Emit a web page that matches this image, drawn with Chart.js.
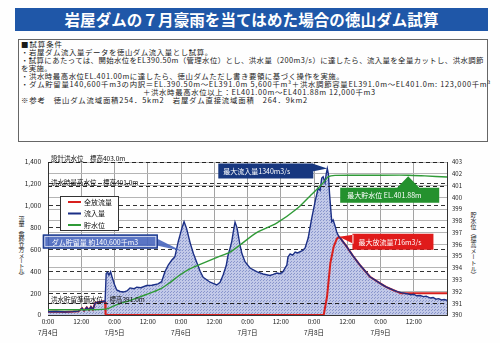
<!DOCTYPE html>
<html lang="ja">
<head>
<meta charset="utf-8">
<script src="https://cdn.jsdelivr.net/npm/chart.js@4.4.1/dist/chart.umd.min.js"></script>
<style>
html,body{margin:0;padding:0;background:#fefefe;}
body{width:500px;height:343px;position:relative;overflow:hidden;font-family:"Noto Sans CJK JP","Noto Sans",sans-serif;}
#chart{position:absolute;left:0;top:0;}
.banner{position:absolute;left:15px;top:8px;width:473px;height:23px;background:#1f57a8;color:#fff;font-weight:700;font-size:15.5px;line-height:23px;text-align:center;letter-spacing:0.1px;}
.cond{position:absolute;left:18px;top:39px;width:468px;height:101px;border:1px solid #666;}
.ln{position:absolute;font-size:7.4px;line-height:8px;white-space:nowrap;color:#1a1a1a;letter-spacing:0.4px;}
.vt{position:absolute;writing-mode:vertical-rl;font-size:6px;line-height:6px;color:#222;white-space:nowrap;}
</style>
</head>
<body>
<div class="banner">岩屋ダムの７月豪雨を当てはめた場合の徳山ダム試算</div>
<div class="cond"></div>
<div class="ln" style="left:21px;top:40px;letter-spacing:1px;">■試算条件</div>
<div class="ln" style="left:21px;top:48px;letter-spacing:0.6px;">・岩屋ダム流入量データを徳山ダム流入量とし試算。</div>
<div class="ln" style="left:21px;top:56px;">・試算にあたっては、開始水位をEL390.50m（管理水位）とし、洪水量（200m3/s）に達したら、流入量を全量カットし、洪水調節</div>
<div class="ln" style="left:21px;top:64px;">を実施。</div>
<div class="ln" style="left:21px;top:72px;letter-spacing:0.55px;">・洪水時最高水位EL.401.00mに達したら、徳山ダムただし書き要領に基づく操作を実施。</div>
<div class="ln" style="left:21px;top:80px;letter-spacing:0.7px;">・ダム貯留量140,600千m3の内訳＝EL.390.50m～EL391.0m 5,600千m³＋洪水調節容量EL391.0m～EL401.0m: 123,000千m³</div>
<div class="ln" style="left:143px;top:88px;letter-spacing:0.65px;">＋洪水時最高水位以上：EL401.00m～EL401.88m 12,000千m3</div>
<div class="ln" style="left:21px;top:96px;letter-spacing:0.8px;">※参考　徳山ダム流域面積254．5km2　岩屋ダム直接流域面積　264．9km2</div>
<div class="vt" style="left:18px;top:216px;letter-spacing:-0.8px;">流量（毎秒立方メートル）</div>
<div class="vt" style="left:470px;top:212px;">貯水位（標高メートル）</div>
<canvas id="chart" width="500" height="343"></canvas>
<script>
// time axis: hours from 7/4 0:00
const dayLabels = ['7月4日', '7月5日', '7月6日', '7月7日', '7月8日', '7月9日'];

// inflow (m3/s)
const inflowHours = [0, 3, 6, 9, 11, 12.3, 13, 14, 14.8, 15.5, 16.2, 17, 18, 19, 20.2, 20.6,
  21, 21.5, 22, 22.6, 23.2, 24, 24.8, 26, 27.2, 28.5, 29.6, 31, 32, 33.5, 35.6, 37.5, 39.7, 41,
  42.2, 43.4, 44.7, 45.8, 47, 48.3, 49.1, 50, 51.3, 52.5, 53.7, 54.9, 56, 57.4, 58.5, 59.6, 60.9,
  62.1, 63.2, 64.3, 65, 65.7, 66.3, 67, 67.5, 68.2, 69.3, 70, 71.1, 72.9, 75.3, 77.6, 80.1, 81.3,
  82.6, 83.8, 84.8, 86.2, 86.6, 87.4, 88.3, 89.2, 90.1, 91, 92, 92.8, 93.9, 95.2, 96.4, 97.5,
  98.2, 98.8, 99.3, 100, 100.4, 100.8, 101.2, 101.6, 102.4, 102.9, 103.6, 104.2, 105, 105.6,
  107.8, 110.1, 112.6, 116.2, 119.9, 122, 124.5, 126, 127.5, 129.5, 131, 132, 133, 134.3, 135.5,
  136.5, 138, 139, 140, 141, 142, 143, 144];
const inflowValues = [30, 32, 28, 31, 35, 62, 40, 70, 45, 75, 50, 110, 118, 122, 125, 120,
  380, 392, 365, 396, 340, 280, 229, 215, 210, 220, 248, 240, 255, 250, 270, 272, 285, 305,
  396, 457, 503, 533, 671, 793, 854, 793, 660, 560, 480, 400, 345, 320, 300, 290, 275,
  300, 366, 450, 549, 610, 670, 780, 850, 800, 640, 560, 488, 430, 396, 375, 362, 372,
  384, 378, 396, 457, 530, 560, 548, 575, 568, 580, 592, 613, 704, 888, 1037, 1162,
  1140, 1253, 1265, 1210, 1290, 1340, 1290, 1113, 854, 869, 815, 760, 716, 700,
  625, 540, 457, 350, 290, 258, 229, 214, 205, 195, 185, 190, 176, 178, 168,
  172, 155, 160, 145, 150, 138, 142, 135];

// total release (m3/s)
const outflowHours = [0, 3, 6, 9, 11, 12.3, 13, 14, 14.8, 15.5, 16.2, 17, 18, 19, 20.2, 20.6, 20.8,
  99.5, 100.7, 101.9, 103.1, 104.2, 105, 105.6, 107.8, 110.1, 112.6, 116.2, 119.9, 122, 124.5,
  126, 127.3, 144];
const outflowValues = [30, 32, 28, 31, 35, 62, 40, 70, 45, 75, 50, 110, 118, 122, 125, 120, 0,
  0, 167, 475, 625, 695, 716, 700, 625, 540, 457, 350, 290, 258, 229,
  214, 200, 200];

// reservoir level (EL m)
const levelHours = [0, 10, 20.8, 24, 30.7, 35, 40.4, 44, 47.6, 51, 54.9, 61, 65.7, 69.3, 75.3,
  82.5, 89.7, 94.5, 99.2, 101.2, 103.6, 115, 130, 136, 144];
const levelValues = [390.45, 390.45, 390.5, 390.8, 391.33, 391.7, 392.2, 392.75, 393.4, 393.9, 394.3,
  394.9, 395.35, 395.95, 397.0, 397.8, 399.0, 400.1, 401.2, 401.75, 401.86, 401.87, 401.88, 401.82, 401.72];

// reference water levels
const refLevels = [403.0, 401.0, 391.0];
const refLabels = ['設計洪水位　標高403.0m', '洪水時最高水位　標高401.0m', '洪水貯留準備水位　標高391.0m'];

// storage callout anchor (hour, m3/s) and text
const storageAnchor = [48.3, 585];
const storageText = 'ダム貯留量 約140,600千m3';

const FONT = '"Noto Sans CJK JP", "Noto Sans", sans-serif';

function pts(hs, vs) { return hs.map((h, i) => ({ x: h, y: vs[i] })); }

function dotPattern() {
  const c = document.createElement('canvas');
  c.width = 3; c.height = 3;
  const g = c.getContext('2d');
  g.fillStyle = '#c2c9e8';
  g.fillRect(0, 0, 3, 3);
  g.fillStyle = '#8995cc';
  g.fillRect(0, 0, 1, 1);
  g.fillRect(2, 1, 1, 1);
  return g.createPattern(c, 'repeat');
}

function callout(ctx, box, tri, fill, text, opts = {}) {
  ctx.save();
  ctx.fillStyle = fill;
  ctx.beginPath();
  ctx.rect(box.x, box.y, box.w, box.h);
  ctx.moveTo(tri[0][0], tri[0][1]);
  ctx.lineTo(tri[1][0], tri[1][1]);
  ctx.lineTo(tri[2][0], tri[2][1]);
  ctx.closePath();
  ctx.fill();
  if (opts.stroke) {
    ctx.strokeStyle = opts.stroke;
    ctx.lineWidth = 1.2;
    ctx.strokeRect(box.x + 0.5, box.y + 0.5, box.w - 1, box.h - 1);
    ctx.strokeStyle = 'rgba(255,255,255,0.8)';
    ctx.lineWidth = 0.8;
    ctx.strokeRect(box.x + 2, box.y + 2, box.w - 4, box.h - 4);
  }
  ctx.fillStyle = opts.color || '#fff';
  ctx.font = (opts.size || 7) + 'px ' + FONT;
  ctx.textBaseline = 'middle';
  ctx.textAlign = 'left';
  ctx.fillText(text, box.x + (opts.pad || 5), box.y + box.h / 2 + 0.5);
  ctx.restore();
}

const overlay = {
  id: 'overlay',
  afterDraw(chart) {
    const { ctx, chartArea: a, scales } = chart;
    const x = scales.x, yL = scales.yL, yR = scales.yR;
    ctx.save();

    // reference water level lines and labels
    refLevels.forEach((lv, i) => {
      const py = Math.round(yR.getPixelForValue(lv)) + 0.5;
      ctx.strokeStyle = '#222';
      ctx.lineWidth = 1;
      ctx.setLineDash([4, 3]);
      ctx.beginPath();
      ctx.moveTo(a.left, py);
      ctx.lineTo(a.right, py);
      ctx.stroke();
      ctx.setLineDash([]);
      ctx.fillStyle = '#111';
      ctx.font = '6.5px ' + FONT;
      ctx.textBaseline = 'middle';
      ctx.textAlign = 'left';
      ctx.fillText(refLabels[i], a.left + 3, py - 4);
    });

    // legend
    const lx = a.left + 12, ly = a.top + 34;
    ctx.fillStyle = '#fff';
    ctx.fillRect(lx, ly, 58, 34);
    ctx.strokeStyle = '#333';
    ctx.lineWidth = 1;
    ctx.strokeRect(lx + 0.5, ly + 0.5, 58, 34);
    chart.data.datasets.forEach((ds, i) => {
      const iy = ly + 6 + i * 11.5;
      ctx.strokeStyle = ds.borderColor;
      ctx.lineWidth = 2;
      ctx.beginPath();
      ctx.moveTo(lx + 8, iy);
      ctx.lineTo(lx + 21, iy);
      ctx.stroke();
      ctx.fillStyle = '#111';
      ctx.font = '7px ' + FONT;
      ctx.textBaseline = 'middle';
      ctx.fillText(ds.label, lx + 24, iy);
    });

    // storage callout
    {
      const px = x.getPixelForValue(storageAnchor[0]);
      const py = yL.getPixelForValue(storageAnchor[1]);
      const box = { x: px - 139, y: py - 16.5, w: 115, h: 14 };
      const r = box.x + box.w;
      callout(ctx, box, [[r - 1, box.y + 4], [px, py], [r - 1, box.y + 11]], 'rgba(72,102,190,0.9)',
        storageText, { stroke: '#1d3a8a', pad: 9 });
    }

    // peak inflow callout
    {
      let k = 0;
      inflowValues.forEach((v, i) => { if (v > inflowValues[k]) k = i; });
      const px = x.getPixelForValue(inflowHours[k]);
      const py = yL.getPixelForValue(inflowValues[k]);
      const box = { x: px - 109, y: py - 5, w: 95, h: 15 };
      const r = box.x + box.w;
      callout(ctx, box, [[r - 1, box.y], [px, py], [r - 1, box.y + 8]], '#17377f',
        '最大流入量' + inflowValues[k] + 'm3/s', { pad: 5 });
    }

    // peak level callout
    {
      let k = 0;
      levelValues.forEach((v, i) => { if (v > levelValues[k]) k = i; });
      const px = x.getPixelForValue(levelHours[k]);
      const py = yR.getPixelForValue(levelValues[k]);
      const box = { x: px - 68, y: py + 12.5, w: 99, h: 15 };
      callout(ctx, box, [[px - 12, box.y + 1], [px, py + 1], [px + 12, box.y + 1]], '#24912e',
        '最大貯水位 EL.' + levelValues[k].toFixed(2) + 'm', { pad: 7 });
    }

    // peak release callout
    {
      let k = 0;
      outflowValues.forEach((v, i) => { if (v > outflowValues[k]) k = i; });
      const px = x.getPixelForValue(outflowHours[k]);
      const py = yL.getPixelForValue(outflowValues[k]);
      const box = { x: px + 13.5, y: py - 3, w: 81, h: 16 };
      callout(ctx, box, [[box.x + 1, box.y + 1], [px, py], [box.x + 1, box.y + 10]], '#e01b1b',
        '最大放流量' + outflowValues[k] + 'm3/s', { pad: 6 });
    }

    ctx.restore();
  }
};

new Chart(document.getElementById('chart'), {
  type: 'line',
  data: {
    datasets: [
      {
        label: '全放流量',
        data: pts(outflowHours, outflowValues),
        yAxisID: 'yL',
        borderColor: '#d8201e',
        borderWidth: 2,
        pointRadius: 0,
        tension: 0,
        fill: false,
        order: 3
      },
      {
        label: '流入量',
        data: pts(inflowHours, inflowValues),
        yAxisID: 'yL',
        borderColor: '#1b2f86',
        borderWidth: 1.4,
        backgroundColor: dotPattern(),
        pointRadius: 0,
        tension: 0,
        fill: 'origin',
        order: 2
      },
      {
        label: '貯水位',
        data: pts(levelHours, levelValues),
        yAxisID: 'yR',
        borderColor: '#2f9a37',
        borderWidth: 1.4,
        pointRadius: 0,
        tension: 0.3,
        fill: false,
        order: 1
      }
    ]
  },
  options: {
    responsive: false,
    animation: false,
    devicePixelRatio: 1,
    layout: { padding: { top: 162, left: 0, right: 0, bottom: 0 } },
    plugins: {
      legend: { display: false },
      tooltip: { enabled: false },
      filler: { drawTime: 'beforeDatasetsDraw' }
    },
    scales: {
      x: {
        type: 'linear',
        min: 0,
        max: 144,
        afterFit: s => { s.height = 28; },
        ticks: {
          stepSize: 12,
          autoSkip: false,
          maxRotation: 0,
          padding: 1,
          color: '#222',
          font: { family: FONT, size: 6.5, lineHeight: '11px' },
          callback: v => {
            if (v >= 144) return '';
            if (v % 24 === 0) return ['0:00', dayLabels[v / 24]];
            return '12:00';
          }
        },
        grid: { color: '#a3a3a3', lineWidth: 1, drawTicks: false },
        border: { color: '#333', width: 1 }
      },
      yL: {
        position: 'left',
        min: 0,
        max: 1400,
        afterFit: s => { s.width = 48; },
        ticks: {
          stepSize: 200,
          padding: 7,
          color: '#222',
          font: { family: FONT, size: 6.5 },
          callback: v => v.toLocaleString('en-US')
        },
        grid: { color: '#333', lineWidth: 1, drawTicks: false },
        border: { color: '#333', width: 1, dash: [4, 3] }
      },
      yR: {
        position: 'right',
        min: 390,
        max: 403,
        afterFit: s => { s.width = 53; },
        ticks: {
          stepSize: 1,
          padding: 5,
          color: '#222',
          font: { family: FONT, size: 6 }
        },
        grid: { color: '#b4b4b4', lineWidth: 1, drawTicks: false },
        border: { color: '#333', width: 1 }
      }
    }
  },
  plugins: [overlay]
});
</script>
</body>
</html>
